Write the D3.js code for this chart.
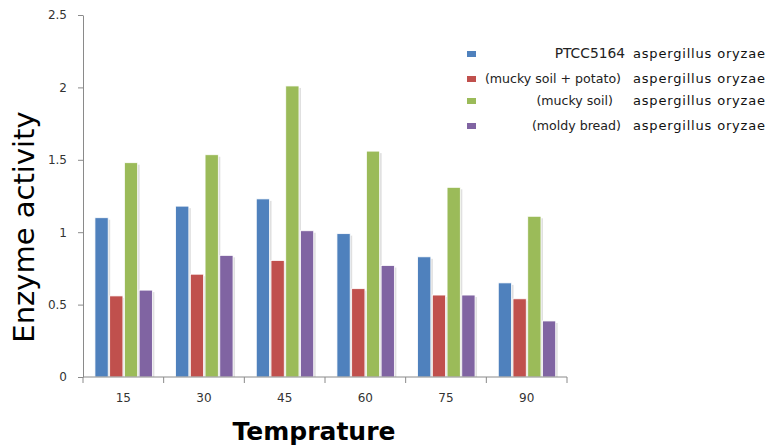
<!DOCTYPE html>
<html>
<head>
<meta charset="utf-8">
<script src="https://cdn.jsdelivr.net/npm/d3@7"></script>
<style>
  body { margin: 0; background: #fff; }
  svg { display: block; }
</style>
</head>
<body>
<div id="chart"></div>
<script>
// data
const temps = ["15", "30", "45", "60", "75", "90"];
const seriesNames = ["PTCC5164", "(mucky soil + potato)", "(mucky soil)", "(moldy bread)"];
const seriesColors = ["#4F81BD", "#C0504D", "#9BBB59", "#8064A2"];
const ptcc = [1.10, 1.18, 1.23, 0.99, 0.83, 0.65];
const soilPotato = [0.56, 0.71, 0.805, 0.61, 0.566, 0.54];
const muckySoil = [1.48, 1.535, 2.01, 1.56, 1.31, 1.11];
const moldyBread = [0.60, 0.84, 1.01, 0.77, 0.566, 0.387];
const yTicks = [0, 0.5, 1, 1.5, 2, 2.5];

const allSeries = [ptcc, soilPotato, muckySoil, moldyBread];

const width = 769, height = 445;
const plot = { left: 83, right: 567, top: 15, bottom: 377 };

const svg = d3.select("#chart").append("svg")
    .attr("width", width)
    .attr("height", height);

const x = d3.scaleBand().domain(temps).range([plot.left, plot.right]).padding(0);
const x1 = d3.scaleBand().domain(d3.range(4))
    .range([x.bandwidth() * 0.148, x.bandwidth() * 0.86])
    .paddingInner(0.1);
const y = d3.scaleLinear().domain([0, 2.5]).range([plot.bottom, plot.top]);

// bars (with a soft shadow like the original)
const groups = svg.append("g").selectAll("g")
    .data(temps)
    .enter().append("g")
    .attr("transform", d => `translate(${x(d)},0)`);

const bars = groups.selectAll("g.bar")
    .data((t, i) => allSeries.map((s, k) => ({ k: k, v: s[i] })))
    .enter().append("g").attr("class", "bar");

bars.append("rect")
    .attr("x", d => x1(d.k) + 2)
    .attr("y", d => y(d.v) + 2)
    .attr("width", x1.bandwidth())
    .attr("height", d => y(0) - y(d.v) - 2)
    .attr("fill", "#bbb")
    .attr("opacity", 0.45);

bars.append("rect")
    .attr("x", d => x1(d.k))
    .attr("y", d => y(d.v))
    .attr("width", x1.bandwidth())
    .attr("height", d => y(0) - y(d.v))
    .attr("fill", d => seriesColors[d.k])
    .attr("stroke", "#fff")
    .attr("stroke-width", 0.8);

// y axis
const yAxis = svg.append("g")
    .attr("transform", `translate(${plot.left},0)`)
    .call(d3.axisLeft(y).tickValues(yTicks).tickSize(5).tickSizeOuter(0).tickFormat(d3.format("")));
yAxis.select(".domain").attr("stroke", "#8a8a8a");
yAxis.selectAll(".tick line").attr("stroke", "#8a8a8a");
yAxis.selectAll(".tick text")
    .attr("x", -16)
    .attr("fill", "#333")
    .style("font", "12px 'DejaVu Sans', sans-serif");

// x axis: ticks sit on category boundaries
const xAxis = svg.append("g")
    .attr("transform", `translate(0,${plot.bottom})`);
xAxis.append("line")
    .attr("x1", plot.left).attr("x2", plot.right)
    .attr("stroke", "#8a8a8a");
xAxis.selectAll("line.tk")
    .data(temps.concat(["end"]))
    .enter().append("line")
    .attr("class", "tk")
    .attr("x1", (d, i) => plot.left + i * x.step())
    .attr("x2", (d, i) => plot.left + i * x.step())
    .attr("y1", 0).attr("y2", 6)
    .attr("stroke", "#8a8a8a");
xAxis.selectAll("text")
    .data(temps)
    .enter().append("text")
    .attr("x", d => x(d) + x.bandwidth() / 2)
    .attr("y", 25)
    .attr("text-anchor", "middle")
    .attr("fill", "#333")
    .style("font", "12px 'DejaVu Sans', sans-serif")
    .text(d => d);

// axis titles
svg.append("text")
    .attr("transform", "translate(34,227) rotate(-90)")
    .attr("text-anchor", "middle")
    .attr("fill", "#000")
    .style("font", "29px 'DejaVu Sans', sans-serif")
    .text("Enzyme activity");

svg.append("text")
    .attr("x", 314)
    .attr("y", 440)
    .attr("text-anchor", "middle")
    .attr("fill", "#000")
    .style("font", "bold 25px 'DejaVu Sans', sans-serif")
    .text("Temprature");

// legend
const legendY = [54, 79, 101, 126];
const legend = svg.append("g").selectAll("g")
    .data(seriesNames)
    .enter().append("g")
    .attr("transform", (d, i) => `translate(0,${legendY[i]})`);

legend.append("rect")
    .attr("x", 467).attr("y", -3)
    .attr("width", 9).attr("height", 6)
    .attr("fill", (d, i) => seriesColors[i]);

legend.append("text")
    .attr("x", (d, i) => i === 0 ? 625 : (i === 2 ? 613 : 621))
    .attr("y", 4)
    .attr("text-anchor", "end")
    .attr("fill", "#222")
    .style("font", (d, i) => i === 0 ? "13.8px 'DejaVu Sans', sans-serif" : "12.6px 'DejaVu Sans', sans-serif")
    .text(d => d);

legend.append("text")
    .attr("x", 633)
    .attr("y", 4)
    .attr("fill", "#111")
    .attr("textLength", 132)
    .style("font", "13px 'DejaVu Sans', sans-serif")
    .text("aspergillus oryzae");
</script>
</body>
</html>
